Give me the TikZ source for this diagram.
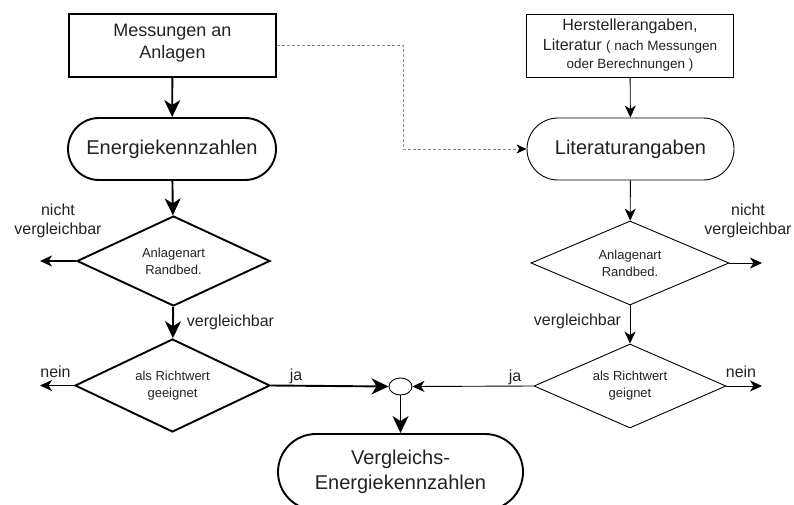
\documentclass[tikz,border=0pt]{standalone}
\usepackage{fontspec}
\setmainfont{Liberation Sans}
\usetikzlibrary{arrows.meta,shapes.geometric}
\definecolor{ink}{HTML}{222222}
\definecolor{dashgray}{HTML}{8A8A8A}
\tikzset{
  heavy/.style={line width=1.9pt},
  light/.style={line width=0.9pt},
  boxnode/.style={draw, rectangle, inner sep=2pt, align=center, text=ink},
  pill/.style={draw, rectangle, rounded corners=#1, inner sep=2pt, align=center, text=ink,
    font=\fontsize{20}{25}\selectfont},
  decide/.style={draw, diamond, inner sep=0pt, aspect=2.2, align=center, text=ink,
    font=\fontsize{13}{17}\selectfont},
  lbl/.style={text=ink, align=center, font=\fontsize{16}{19}\selectfont, inner sep=0pt},
  bigtip/.style={-{Stealth[length=17pt,width=16pt,inset=5pt]}},
  smalltip/.style={-{Stealth[length=12pt,width=11pt,inset=3.5pt]}},
}
\begin{document}
\begin{tikzpicture}[x=1pt,y=-1pt]
  \useasboundingbox (0,0) rectangle (794,505);

  % left column: measured values
  \node[boxnode, heavy, minimum width=207pt, minimum height=63pt, text depth=9pt,
        font=\fontsize{18}{22}\selectfont] (mess) at (172.5,45.5) {Messungen an\\Anlagen};
  \node[pill=31pt, heavy, minimum width=208pt, minimum height=62pt] (energ) at (172,149) {Energiekennzahlen};
  \node[decide, heavy, minimum width=193pt, minimum height=90pt] (dl1) at (173.5,261) {Anlagenart\\Randbed.};
  \node[decide, heavy, minimum width=195pt, minimum height=93pt] (dl2) at (172.5,385.5) {als Richtwert\\geeignet};

  % right column: literature values
  \node[boxnode, light, minimum width=207pt, minimum height=63pt,
        font=\fontsize{16}{20}\selectfont] (hers) at (630,45.5)
    {Herstellerangaben,\\Literatur {\fontsize{13.5}{18}\selectfont( nach Messungen}\\[-2pt]{\fontsize{13.5}{18}\selectfont oder Berechnungen )}};
  \node[pill=31pt, light, minimum width=207pt, minimum height=62pt] (lit) at (630.5,149) {Literaturangaben};
  \node[decide, light, minimum width=198pt, minimum height=84pt] (dr1) at (630,263) {Anlagenart\\Randbed.};
  \node[decide, light, minimum width=192pt, minimum height=84pt] (dr2) at (630,386) {als Richtwert\\geignet};

  % merge point and result
  \node[draw, ellipse, light, minimum width=23pt, minimum height=17pt, inner sep=0pt] (join) at (400.5,386.5) {};
  \node[pill=38pt, heavy, minimum width=245pt, minimum height=76pt,
        font=\fontsize{20}{25}\selectfont] (result) at (400.5,472) {Vergleichs-\\Energiekennzahlen};

  % free ends of the rejecting branches
  \coordinate (l1out) at (40,261);
  \coordinate (l2out) at (40,385.5);
  \coordinate (r1out) at (762,263);
  \coordinate (r2out) at (762,386);
  \coordinate (dashbend) at (403,45.5);

  % left connectors
  \draw[heavy, bigtip] (mess) -- (energ);
  \draw[heavy, bigtip] (energ) -- (dl1);
  \draw[heavy, bigtip] (dl1) -- (dl2);
  \draw[heavy, smalltip] (dl1.west) -- (l1out);
  \draw[heavy, smalltip] (dl2.west) -- (l2out);
  \draw[heavy, bigtip] (dl2.east) -- (join.west);
  \draw[heavy, bigtip] (join.south) -- (result.north);

  % right connectors
  \draw[light, smalltip] (hers) -- (lit);
  \draw[light, smalltip] (lit) -- (dr1);
  \draw[light, smalltip] (dr1) -- (dr2);
  \draw[light, smalltip] (dr1.east) -- (r1out);
  \draw[light, smalltip] (dr2.east) -- (r2out);
  \draw[light, smalltip] (dr2.west) -- (join.east);

  % dashed link from measurements to literature values
  \draw[dashgray, line width=0.8pt, dash pattern=on 3pt off 2pt,
        -{Stealth[length=10pt,width=9pt,inset=3pt,black]}]
    (mess.east |- dashbend) -- (dashbend) |- (lit.west);

  % branch labels
  \node[lbl] (lnv) at (58,221) {nicht\\vergleichbar};
  \node[lbl] (rnv) at (748,221) {nicht\\vergleichbar};
  \node[lbl] (lv) at (230.5,322) {vergleichbar};
  \node[lbl] (rv) at (577.5,321) {vergleichbar};
  \node[lbl] (lnein) at (55.5,372) {nein};
  \node[lbl] (rnein) at (741,372) {nein};
  \node[lbl] (lja) at (296,376) {ja};
  \node[lbl] (rja) at (515,377) {ja};
\end{tikzpicture}
\end{document}
